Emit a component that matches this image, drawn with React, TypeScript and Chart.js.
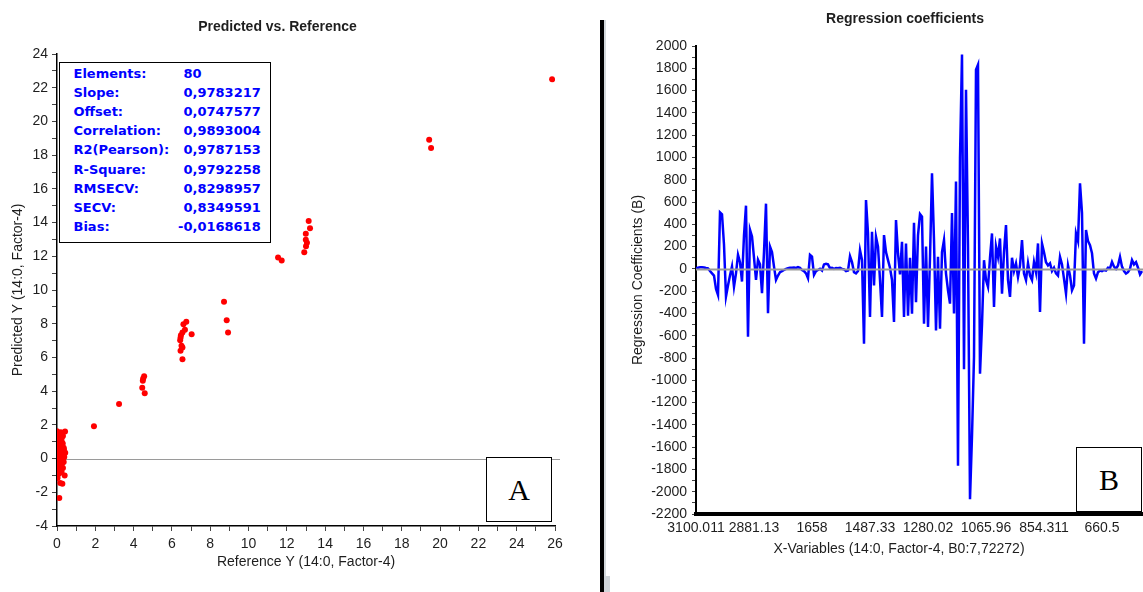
import React, { useEffect, useRef } from "react";
import { Chart, registerables } from "chart.js";

Chart.register(...registerables);

const SANS = '"Liberation Sans", Arial, sans-serif';
const TEXT = "#1e1e1e";

// ---- Panel A: Predicted vs. Reference ----
const refX = [
  0.0, 0.2, 0.42, 0.31, 0.07, 0.24, 0.0, 0.14, 0.35, 0.0,
  0.2, 0.43, 0.0, 0.14, 0.31, 0.03, 0.2, 0.0, 0.31, 0.14,
  0.4, 0.03, 0.17, 0.28, 0.12, 0.1, 0.25, 0.05, 0.3, 0.18,
  0.08, 0.38, 0.12, 0.26, 0.05, 0.35, 0.22, 0.15, 0.1, 0.28,
  0.02, 0.33, 0.09, 0.24, 0.36, 0.16,
  1.93, 3.24,
  4.55, 4.5, 4.48, 4.45, 4.58,
  6.75, 6.6, 6.68, 6.55, 6.47, 6.45, 6.43, 6.5, 6.55, 6.45, 6.55, 7.03,
  8.72, 8.86, 8.93,
  11.54, 11.73,
  12.91, 13.0, 13.05, 12.99, 12.99, 13.21, 13.14,
  19.43, 19.53,
  25.85,
];
const predY = [
  1.62, 1.56, 1.6, 1.34, 1.18, 1.04, 0.94, 0.74, 0.64, 0.54,
  0.44, 0.34, 0.14, 0.14, -0.06, -0.22, -0.36, -0.56, -0.56, -0.7,
  -1.01, -1.15, -1.45, -1.49, -2.34, 1.4, 1.25, 0.8, 0.9, 0.3,
  0.45, 0.1, -0.1, -0.3, -0.4, -0.2, 0.6, 1.1, -0.9, 1.5,
  0.3, 0.2, -0.6, -0.8, 0.55, -0.25,
  1.92, 3.23,
  4.88, 4.75, 4.62, 4.2, 3.88,
  8.11, 7.97, 7.64, 7.48, 7.32, 7.16, 7.02, 6.69, 6.59, 6.39, 5.89, 7.38,
  9.3, 8.21, 7.48,
  11.93, 11.75,
  12.24, 12.6, 12.8, 12.98, 13.33, 13.67, 14.09,
  18.91, 18.42,
  22.5,
];

const statLabels = [
  "Elements:", "Slope:", "Offset:", "Correlation:", "R2(Pearson):",
  "R-Square:", "RMSECV:", "SECV:", "Bias:",
];
const statValues = [
  "80", "0,9783217", "0,0747577", "0,9893004", "0,9787153",
  "0,9792258", "0,8298957", "0,8349591", "-0,0168618",
];

// ---- Panel B: Regression coefficients ----
const coefValues = [
  5, 10, 15, 15, 12, 8, 5, -20, -40, -60,
  -180, -234, 507, 490, 216, -249, -150, -60, 21, -159,
  -40, 126, 60, -114, 300, 567, -609, 351, 291, 100,
  -99, 81, 40, -219, 150, 585, -399, 200, 150, 20,
  -99, -60, -30, -20, -10, 0, 5, 10, 10, 12,
  8, 15, 10, -10, -20, -40, -84, 126, 110, -54,
  -20, -10, 0, -15, 40, 45, 40, 5, 10, 0,
  8, 5, 10, 0, -5, -20, -15, 114, 60, -30,
  -40, -20, 168, 80, -672, 618, 318, -432, 333, -150,
  288, 200, -100, -432, 303, 150, 78, 10, -100, -477,
  438, 138, -50, 243, -432, 228, -420, 100, -402, 414,
  -300, 300, 492, 468, -492, 200, -522, 100, 858, 258,
  -552, 108, -537, 150, 258, -42, -192, -312, 500, -400,
  783, -1767, 1000, 1923, -900, 1608, 200, -2067, -1500, -792,
  1788, 1833, -942, -500, 78, -100, -162, 100, 318, -342,
  200, 108, 273, -222, 150, 393, -100, -252, 100, -20,
  48, -72, 30, 258, -42, -102, 50, -60, -100, 60,
  -30, 228, -387, 228, 150, 60, 30, 50, -20, 10,
  -40, -60, 108, 40, -90, -222, 30, -60, -192, -150,
  318, 250, 768, 500, -672, 348, 250, 213, 140, -42,
  -87, -30, -15, -20, -10, -15, 10, 5, 63, 20,
  0, 30, 108, 20, -20, -42, -30, 0, 78, 40,
  60, 10, -50, -20,
];
const coefTickIndex = [0, 29, 58, 87, 116, 145, 174, 203];
const coefTickLabels = [
  "3100.011", "2881.13", "1658", "1487.33", "1280.02", "1065.96", "854.311", "660.5",
];

function zeroLine(id: string, color: string, width: number, after: boolean) {
  const draw = (chart: any) => {
    const { ctx, chartArea, scales } = chart;
    const y = Math.round(scales.y.getPixelForValue(0)) + 0.5;
    ctx.save();
    ctx.strokeStyle = color;
    ctx.lineWidth = width;
    ctx.beginPath();
    ctx.moveTo(chartArea.left, y);
    ctx.lineTo(chartArea.right + (after ? 0 : 5), y);
    ctx.stroke();
    ctx.restore();
  };
  return after ? { id, afterDatasetsDraw: draw } : { id, beforeDatasetsDraw: draw };
}

const coefXTitle = {
  id: "coefXTitle",
  afterDraw(chart: any) {
    const { ctx } = chart;
    const xs = chart.scales.x;
    const cx =
      (xs.getPixelForValue(coefTickIndex[0]) +
        xs.getPixelForValue(coefTickIndex[coefTickIndex.length - 1])) / 2;
    ctx.save();
    ctx.font = `14px ${SANS}`;
    ctx.fillStyle = TEXT;
    ctx.textAlign = "center";
    ctx.textBaseline = "middle";
    ctx.fillText("X-Variables (14:0, Factor-4, B0:7,72272)", cx, xs.bottom - 43);
    ctx.restore();
  },
};

export default function App() {
  const leftRef = useRef<HTMLCanvasElement>(null);
  const rightRef = useRef<HTMLCanvasElement>(null);

  useEffect(() => {
    Chart.defaults.font.family = SANS;
    const left = new Chart(leftRef.current as HTMLCanvasElement, {
      type: "scatter",
      data: {
        datasets: [
          {
            data: refX.map((x, i) => ({ x, y: predY[i] })),
            backgroundColor: "#ff0000",
            borderWidth: 0,
            pointRadius: 3,
            pointHoverRadius: 3,
          },
        ],
      },
      options: {
        animation: false,
        responsive: false,
        events: [],
        layout: { padding: { left: 0, right: 27, top: 0, bottom: 0 } },
        plugins: {
          legend: { display: false },
          tooltip: { enabled: false },
          title: {
            display: true,
            text: "Predicted vs. Reference",
            color: TEXT,
            font: { family: SANS, size: 14, weight: "bold" },
            padding: { top: 18.6, bottom: 18.6 },
          },
        },
        scales: {
          x: {
            type: "linear",
            min: 0,
            max: 26,
            afterFit: (s: any) => {
              s.height = 66;
            },
            ticks: {
              stepSize: 1,
              autoSkip: false,
              maxRotation: 0,
              padding: 5,
              color: TEXT,
              font: { family: SANS, size: 14 },
              callback: (v: any) => (Number(v) % 2 === 0 ? String(v) : ""),
            },
            grid: { drawOnChartArea: false, drawTicks: true, tickLength: 5, color: "#444" },
            border: { display: true, color: "#000", width: 1.5 },
            title: {
              display: true,
              text: "Reference Y (14:0, Factor-4)",
              color: TEXT,
              font: { family: SANS, size: 14 },
              padding: { top: 0, bottom: 21.6 },
            },
          },
          y: {
            type: "linear",
            min: -4,
            max: 24,
            afterFit: (s: any) => {
              s.width = 57;
            },
            ticks: {
              stepSize: 1,
              autoSkip: false,
              padding: 4,
              color: TEXT,
              font: { family: SANS, size: 14 },
              callback: (v: any) => (Number(v) % 2 === 0 ? String(v) : ""),
            },
            grid: { drawOnChartArea: false, drawTicks: true, tickLength: 5, color: "#444" },
            border: { display: true, color: "#000", width: 1.5 },
            title: {
              display: true,
              text: "Predicted Y (14:0, Factor-4)",
              color: TEXT,
              font: { family: SANS, size: 14 },
              padding: { top: 9.6, bottom: 0 },
            },
          },
        },
      } as any,
      plugins: [zeroLine("zeroA", "#9a9a9a", 1.2, false)],
    });

    const right = new Chart(rightRef.current as HTMLCanvasElement, {
      type: "line",
      data: {
        datasets: [
          {
            data: coefValues.map((v, i) => ({ x: i, y: v })),
            borderColor: "#0000ff",
            borderWidth: 2.5,
            pointRadius: 0,
            tension: 0,
            fill: false,
          },
        ],
      },
      options: {
        animation: false,
        responsive: false,
        events: [],
        layout: { padding: { left: 0, right: 0, top: 0, bottom: 0 } },
        plugins: {
          legend: { display: false },
          tooltip: { enabled: false },
          title: {
            display: true,
            text: "Regression coefficients",
            color: TEXT,
            font: { family: SANS, size: 14, weight: "bold" },
            padding: { top: 10.6, bottom: 18.6 },
          },
        },
        scales: {
          x: {
            type: "linear",
            min: 0,
            max: 253,
            afterFit: (s: any) => {
              s.height = 78;
            },
            afterBuildTicks: (s: any) => {
              s.ticks = coefTickIndex.map((v) => ({ value: v }));
            },
            ticks: {
              autoSkip: false,
              maxRotation: 0,
              padding: 6,
              color: TEXT,
              font: { family: SANS, size: 14 },
              callback: (v: any) => {
                const k = coefTickIndex.indexOf(Number(v));
                return k >= 0 ? coefTickLabels[k] : "";
              },
            },
            grid: { drawOnChartArea: false, drawTicks: false },
            border: { display: true, color: "#000", width: 4 },
          },
          y: {
            type: "linear",
            min: -2200,
            max: 2000,
            afterFit: (s: any) => {
              s.width = 88;
            },
            ticks: {
              stepSize: 100,
              autoSkip: false,
              padding: 5,
              color: TEXT,
              font: { family: SANS, size: 14 },
              callback: (v: any) => (Number(v) % 200 === 0 ? String(v) : ""),
            },
            grid: { drawOnChartArea: false, drawTicks: true, tickLength: 4, color: "#444" },
            border: { display: true, color: "#000", width: 2 },
            title: {
              display: true,
              text: "Regression Coefficients (B)",
              color: TEXT,
              font: { family: SANS, size: 14 },
              padding: { top: 21.5, bottom: 0 },
            },
          },
        },
      } as any,
      plugins: [zeroLine("zeroB", "#9a9a9a", 2, true), coefXTitle],
    });

    return () => {
      left.destroy();
      right.destroy();
    };
  }, []);

  const boxLabel: React.CSSProperties = {
    position: "absolute",
    height: 19,
    lineHeight: "19px",
    whiteSpace: "nowrap",
  };

  return (
    <div
      style={{
        position: "fixed",
        left: 0,
        top: 0,
        width: 1143,
        height: 592,
        overflow: "hidden",
        background: "#fff",
      }}
    >
      <canvas
        ref={leftRef}
        width={582}
        height={592}
        style={{ position: "absolute", left: 0, top: 0 }}
      />
      <canvas
        ref={rightRef}
        width={594}
        height={592}
        style={{ position: "absolute", left: 608, top: 0 }}
      />

      {/* statistics box */}
      <div
        style={{
          position: "absolute",
          left: 59,
          top: 62,
          width: 212,
          height: 181,
          boxSizing: "border-box",
          border: "1.5px solid #000",
          background: "#fff",
          fontFamily: '"DejaVu Sans", sans-serif',
          fontWeight: "bold",
          fontSize: 13,
          color: "#0000ff",
        }}
      >
        {statLabels.map((l, i) => (
          <div key={"l" + i} style={{ ...boxLabel, top: 1 + i * 19.1, left: 13.5 }}>
            {l}
          </div>
        ))}
        {statValues.map((v, i) => (
          <div
            key={"v" + i}
            style={{ ...boxLabel, top: 1 + i * 19.1, left: v.startsWith("-") ? 118 : 123.5 }}
          >
            {v}
          </div>
        ))}
      </div>

      {/* panel labels */}
      <div
        style={{
          position: "absolute",
          left: 486,
          top: 457,
          width: 66,
          height: 65,
          boxSizing: "border-box",
          border: "1px solid #000",
          background: "#fff",
          fontFamily: '"Liberation Serif", "Times New Roman", serif',
          fontSize: 30,
          lineHeight: "63px",
          textAlign: "center",
          color: "#000",
        }}
      >
        A
      </div>
      <div
        style={{
          position: "absolute",
          left: 1076,
          top: 447,
          width: 66,
          height: 65,
          boxSizing: "border-box",
          border: "1px solid #000",
          background: "#fff",
          fontFamily: '"Liberation Serif", "Times New Roman", serif',
          fontSize: 30,
          lineHeight: "63px",
          textAlign: "center",
          color: "#000",
        }}
      >
        B
      </div>

      {/* divider between panels */}
      <div style={{ position: "absolute", left: 600, top: 20, width: 4, height: 572, background: "#000" }} />
      <div style={{ position: "absolute", left: 604, top: 20, width: 2, height: 572, background: "#d3d8dc" }} />
      <div style={{ position: "absolute", left: 604, top: 576, width: 6, height: 16, background: "#cfd4d8" }} />
    </div>
  );
}
